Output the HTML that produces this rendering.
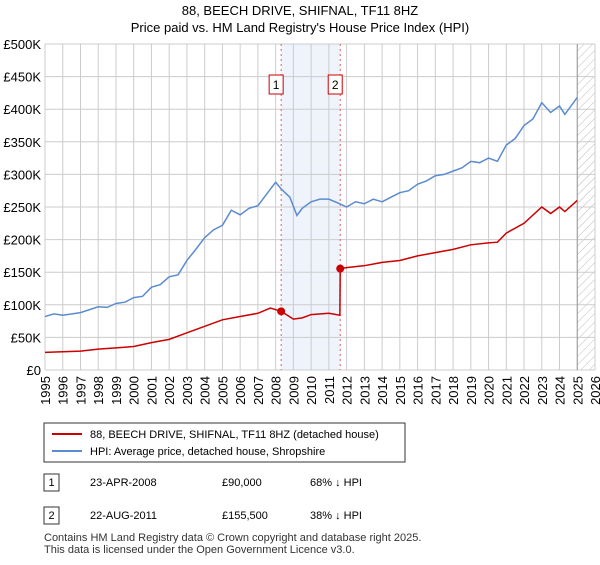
<!DOCTYPE html>
<html><head><meta charset="utf-8"><style>
body{margin:0;background:#fff;font-family:"Liberation Sans","DejaVu Sans",sans-serif;}
svg text{font-family:"Liberation Sans","DejaVu Sans",sans-serif;}
</style></head><body>
<svg id="chart" width="600" height="560">
<text x="300" y="15" text-anchor="middle" font-size="13">88, BEECH DRIVE, SHIFNAL, TF11 8HZ</text>
<text x="300" y="32" text-anchor="middle" font-size="13">Price paid vs. HM Land Registry's House Price Index (HPI)</text>
<g id="grid"></g><g id="series"></g>
<g>
<rect x="44" y="423" width="361" height="39" fill="#fff" stroke="#333"/>
<line x1="52" y1="434" x2="82" y2="434" stroke="#cc0000" stroke-width="2"/>
<text x="90" y="438" font-size="11">88, BEECH DRIVE, SHIFNAL, TF11 8HZ (detached house)</text>
<line x1="52" y1="451" x2="82" y2="451" stroke="#5b8bd0" stroke-width="2"/>
<text x="90" y="455" font-size="11">HPI: Average price, detached house, Shropshire</text>
</g>
<g font-size="11">
<rect x="44" y="474" width="15" height="17" fill="#fff" stroke="#333"/><text x="51.5" y="486" text-anchor="middle">1</text>
<text x="90" y="486">23-APR-2008</text><text x="222" y="486">£90,000</text><text x="310" y="486">68% ↓ HPI</text>
<rect x="44" y="507" width="15" height="17" fill="#fff" stroke="#333"/><text x="51.5" y="519" text-anchor="middle">2</text>
<text x="90" y="519">22-AUG-2011</text><text x="222" y="519">£155,500</text><text x="310" y="519">38% ↓ HPI</text>
</g>
<text x="44" y="541" font-size="11" fill="#333">Contains HM Land Registry data © Crown copyright and database right 2025.</text>
<text x="44" y="553" font-size="11" fill="#333">This data is licensed under the Open Government Licence v3.0.</text>
</svg>
<script>
const hpiX=[1995,1995.5,1996,1997,1998,1998.5,1999,1999.5,2000,2000.5,2001,2001.5,2002,2002.5,2003,2003.5,2004,2004.5,2005,2005.5,2006,2006.5,2007,2007.5,2008,2008.3,2008.8,2009.2,2009.5,2010,2010.5,2011,2011.6,2012,2012.5,2013,2013.5,2014,2014.5,2015,2015.5,2016,2016.5,2017,2017.5,2018,2018.5,2019,2019.5,2020,2020.5,2021,2021.5,2022,2022.5,2023,2023.5,2024,2024.3,2025];
const hpiY=[82,86,84,88,97,96,102,104,111,113,127,131,143,146,168,185,203,215,222,245,238,248,252,270,288,278,265,237,248,258,262,262,255,250,258,255,262,258,265,272,275,285,290,298,300,305,310,320,318,325,320,345,355,375,385,410,395,405,392,418];
const ppX=[1995,1996,1997,1998,1999,2000,2001,2002,2003,2004,2005,2006,2007,2007.7,2008.31,2009,2009.5,2010,2011,2011.62,2011.64,2012,2013,2014,2015,2016,2017,2018,2019,2020,2020.5,2021,2022,2023,2023.5,2024,2024.3,2025];
const ppY=[27,28,29,32,34,36,42,47,57,67,77,82,87,95,90,78,80,85,87,84,155.5,157,160,165,168,175,180,185,192,195,196,210,225,250,240,250,243,260];
const sales=[[2008.31,90,"1"],[2011.64,155.5,"2"]];
const yTicks=[0,50,100,150,200,250,300,350,400,450,500];
const xTicks=[1995,1996,1997,1998,1999,2000,2001,2002,2003,2004,2005,2006,2007,2008,2009,2010,2011,2012,2013,2014,2015,2016,2017,2018,2019,2020,2021,2022,2023,2024,2025,2026];
const L=45,R=595,T=44,B=370;
const X=v=>L+(v-1995)*(R-L)/31, Y=v=>B-v*(B-T)/500;
const NS="http://www.w3.org/2000/svg";
function mk(tag,a,p){const e=document.createElementNS(NS,tag);for(const k in a)e.setAttribute(k,a[k]);p.appendChild(e);return e;}
const g=document.getElementById('grid'), s=document.getElementById('series');
// shaded region & hatch
let sh=mk('rect',{x:X(sales[0][0]),y:T,width:X(sales[1][0])-X(sales[0][0]),height:B-T,fill:'#eef3fc'},g);


const defs=mk('defs',{},g);
const pat=mk('pattern',{id:'hatch',width:6,height:6,patternUnits:'userSpaceOnUse',patternTransform:'rotate(45)'},defs);
mk('line',{x1:0,y1:0,x2:0,y2:6,stroke:'#bbb','stroke-width':1},pat);
let hr=mk('rect',{x:X(2025),y:T,width:R-X(2025),height:B-T,fill:'url(#hatch)'},g);


yTicks.forEach(v=>{
 mk('line',{x1:L,x2:R,y1:Y(v),y2:Y(v),stroke:'#ccc'},g);
 const t=mk('text',{x:L-4,y:Y(v)+5,'text-anchor':'end','font-size':13},g);
 
 
 t.textContent=v===0?'£0':'£'+v+'K';
});
xTicks.forEach(v=>{
 mk('line',{x1:X(v),x2:X(v),y1:T,y2:B,stroke:'#ccc'},g);
 const t=mk('text',{x:0,y:0,'text-anchor':'end','font-size':13,transform:`translate(${X(v)+5},${B+6}) rotate(-90)`},g);
 
 
 t.textContent=v;
});
mk('line',{x1:X(2025),x2:X(2025),y1:T,y2:B,stroke:'#999'},g);
sales.forEach(d=>{
 mk('line',{x1:X(d[0]),x2:X(d[0]),y1:T,y2:B,stroke:'#e06060','stroke-dasharray':'2,3'},g);
 const bx=mk('rect',{x:X(d[0])-12,y:75,width:14,height:19,fill:'#fff',stroke:'#cc0000'},g);
 
 
 const t=mk('text',{x:X(d[0])-5,y:89,'text-anchor':'middle','font-size':12},g);
 t.textContent=d[2];
});
const hp=mk('polyline',{points:hpiX.map((x,i)=>X(x)+','+Y(hpiY[i])).join(' '),fill:'none',stroke:'#5b8bd0','stroke-width':1.5},s);


const pp=mk('polyline',{points:ppX.map((x,i)=>X(x)+','+Y(ppY[i])).join(' '),fill:'none',stroke:'#cc0000','stroke-width':1.5},s);


sales.forEach(d=>{
 const c=mk('circle',{cx:X(d[0]),cy:Y(d[1]),r:4,fill:'#cc0000'},s);
 
 
});
</script>
</body></html>
